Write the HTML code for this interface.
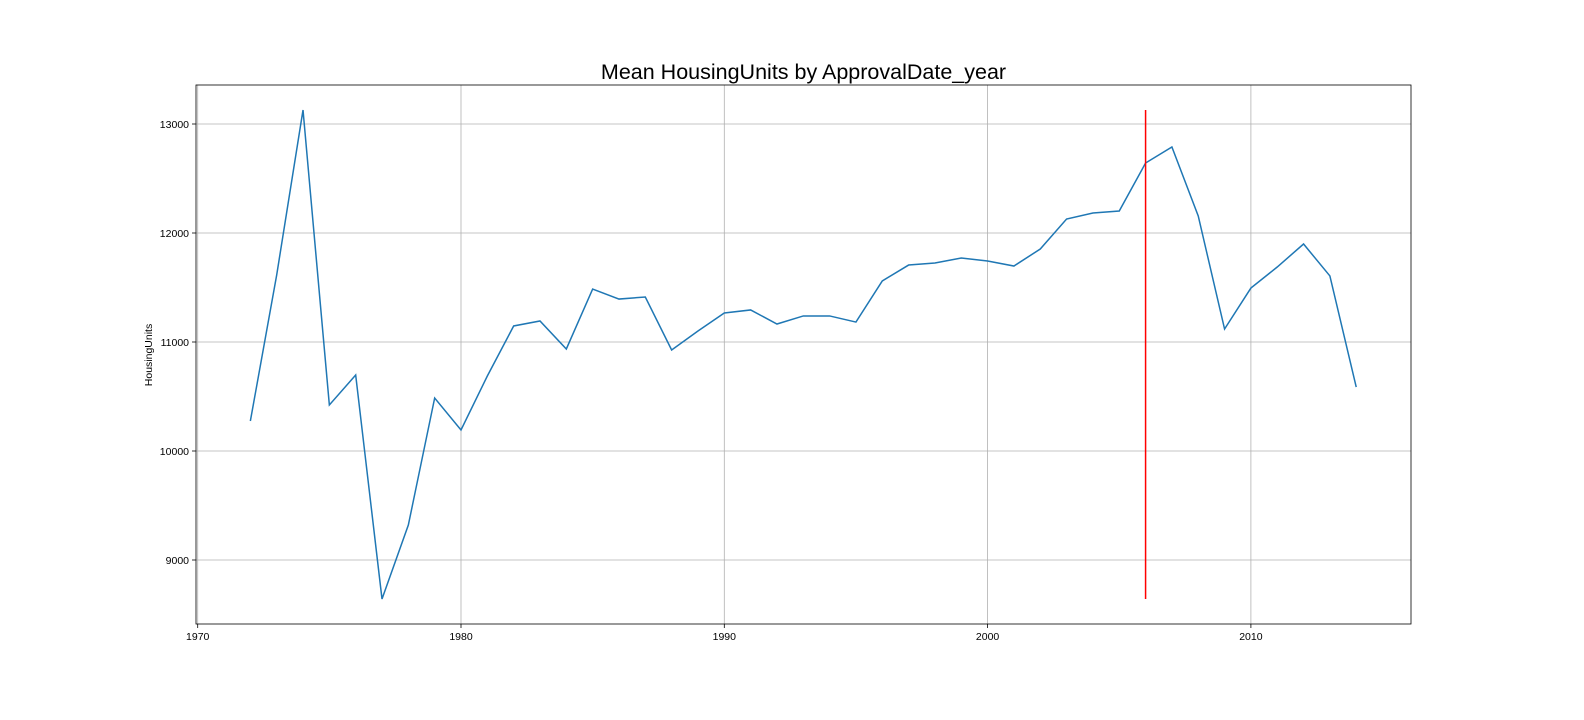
<!DOCTYPE html>
<html><head><meta charset="utf-8"><style>
body{margin:0;background:#fff;overflow:hidden;}
svg{display:block;font-family:"Liberation Sans","DejaVu Sans",sans-serif;}
</style></head><body>
<svg id="chart" width="1584" height="720"></svg>
<script>
const years=[1972,1973,1974,1975,1976,1977,1978,1979,1980,1981,1982,1983,1984,1985,1986,1987,1988,1989,1990,1991,1992,1993,1994,1995,1996,1997,1998,1999,2000,2001,2002,2003,2004,2005,2006,2007,2008,2009,2010,2011,2012,2013,2014];
const values=[10275,11615,13128,10422,10697,8642,9321,10486,10193,10688,11147,11193,10936,11486,11394,11413,10927,11101,11266,11294,11165,11239,11239,11183,11560,11706,11725,11771,11743,11697,11853,12128,12183,12202,12642,12789,12156,11119,11495,11688,11899,11606,10587];
const xTicks=[1970,1980,1990,2000,2010];
const yTicks=[9000,10000,11000,12000,13000];
const markerYear=2006;
const NS="http://www.w3.org/2000/svg";
const svg=document.getElementById('chart');
const L=196,R=1411,T=85,B=624;
const xs=y=>197.7+(y-1970)*26.33;
const ys=v=>124+(13000-v)*0.109;
function mk(tag,attrs,parent){const e=document.createElementNS(NS,tag);for(const k in attrs)e.setAttribute(k,attrs[k]);(parent||svg).appendChild(e);return e;}
const grid=mk('g',{});


xTicks.forEach(t=>{const x=xs(t);
 mk('line',{x1:x,x2:x,y1:T,y2:B,stroke:'#b0b0b0','stroke-width':0.8},grid);
 mk('line',{x1:x,x2:x,y1:B,y2:B+4,stroke:'#000','stroke-width':0.8});
 const tx=mk('text',{x:x,y:B+16,'text-anchor':'middle','font-size':10.5,fill:'#000'});tx.textContent=t;
 
 
});
yTicks.forEach(t=>{const y=ys(t);
 mk('line',{x1:L,x2:R,y1:y,y2:y,stroke:'#b0b0b0','stroke-width':0.8},grid);
 mk('line',{x1:L-4,x2:L,y1:y,y2:y,stroke:'#000','stroke-width':0.8});
 const tx=mk('text',{x:L-7,y:y+4,'text-anchor':'end','font-size':10.5,fill:'#000'});tx.textContent=t;
 
 
});
const line=mk('polyline',{points:years.map((y,i)=>xs(y)+','+ys(values[i])).join(' '),fill:'none',stroke:'#1f77b4','stroke-width':1.5});


const mx=xs(markerYear);
const red=mk('line',{x1:mx,x2:mx,y1:ys(Math.max(...values)),y2:ys(Math.min(...values)),stroke:'#ff0000','stroke-width':1.5});


const frame=mk('rect',{x:L,y:T,width:R-L,height:B-T,fill:'none',stroke:'#000','stroke-width':0.8});


const title=mk('text',{x:(L+R)/2,y:79,'text-anchor':'middle','font-size':21.5,fill:'#000'});
title.textContent='Mean HousingUnits by ApprovalDate_year';


const yl=mk('text',{x:0,y:0,transform:'translate(152,355) rotate(-90)','text-anchor':'middle','font-size':10.5,fill:'#000'});
yl.textContent='HousingUnits';


</script>
</body></html>
